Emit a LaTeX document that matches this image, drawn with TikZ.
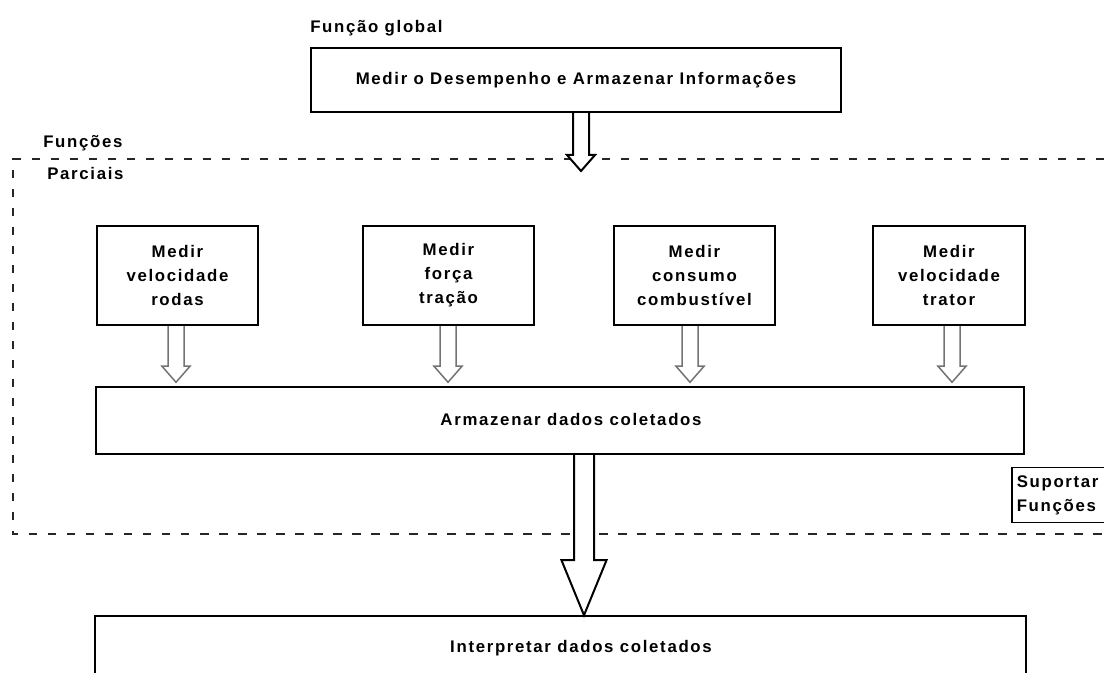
\documentclass[tikz,border=0pt]{standalone}
\usepackage{fontspec}
\setmainfont{Liberation Sans}
\newfontfamily\diagfont{Liberation Sans}[LetterSpace=10]
\usetikzlibrary{calc}
\newdimen\pxu \pxu=0.75pt
\pgfdeclarelayer{background}
\pgfsetlayers{background,main}
\tikzset{
  txt/.style={font=\diagfont\bfseries\fontsize{12.6}{18}\selectfont, inner sep=0pt, align=center},
  box/.style={draw=black, line width=1.5\pxu, inner sep=0pt, txt},
  fbox/.style={box, minimum height=99\pxu},
  barrow/.style={draw=black, line width=2\pxu, fill=white, line join=miter},
  garrow/.style={draw=black!55, line width=1.5\pxu, fill=white, line join=miter},
  regdash/.style={draw=black!85, line width=1.5\pxu, dash pattern=on 8.5\pxu off 10.5\pxu},
}
% #1 style, #2 shaft top, #3 tip, #4 shaft half width, #5 head half width, #6 head length
\newcommand\blkarrow[6]{\draw[#1] ($(#2)+(-#4,0)$) -- ($(#3)+(-#4,-#6)$) -- ($(#3)+(-#5,-#6)$) -- (#3) -- ($(#3)+(#5,-#6)$) -- ($(#3)+(#4,-#6)$) -- ($(#2)+(#4,0)$);}
\begin{document}
\begin{tikzpicture}[x=0.75pt, y=-0.75pt]
\path[use as bounding box, clip] (0,0) rectangle (1104,673);

% labels
\node[txt, anchor=west] (lglob) at (310,28) {Função global};
\node[txt, anchor=west] (lfun) at (43,143) {Funções};
\node[txt, anchor=west] (lpar) at (47,173) {Parciais};

% boxes
\node[box, minimum width=530\pxu, minimum height=64\pxu] (glob) at (576,80) {Medir o Desempenho e Armazenar Informações};
\node[fbox, minimum width=161\pxu] (f1) at (177.5,275.5) {Medir\\velocidade\\rodas};
\node[fbox, minimum width=171\pxu] (f2) at (448.5,275.5) {Medir\\força\\tração};
\node[fbox, minimum width=161\pxu] (f3) at (694.5,275.5) {Medir\\consumo\\combustível};
\node[fbox, minimum width=152\pxu] (f4) at (949,275.5) {Medir\\velocidade\\trator};
\node[box, minimum width=928\pxu, minimum height=67\pxu] (store) at (560,420.5) {};
\node[txt] (tstore) at (571,419) {Armazenar dados coletados};
\node[box, minimum width=931\pxu, minimum height=84\pxu] (interp) at (560.5,658) {};
\node[txt] (tinterp) at (581,648) {Interpretar dados coletados};
\node[box, anchor=north west, minimum height=55\pxu, text width=99\pxu, inner xsep=5\pxu, align=left] (sup) at (1011,467) {Suportar\\Funções};

% arrow guide coordinates
\coordinate (x0) at (581,0);
\coordinate (x1) at (176,0);
\coordinate (x2) at (448,0);
\coordinate (x3) at (690,0);
\coordinate (x4) at (952,0);
\coordinate (xb) at (584,0);
\coordinate (tip0) at (581,171);
\coordinate (s0) at (glob.south -| x0);
\coordinate (s1) at (f1.south -| x1);
\coordinate (s2) at (f2.south -| x2);
\coordinate (s3) at (f3.south -| x3);
\coordinate (s4) at (f4.south -| x4);
\coordinate (t1) at ($(store.north -| x1)+(0,-4)$);
\coordinate (t2) at ($(store.north -| x2)+(0,-4)$);
\coordinate (t3) at ($(store.north -| x3)+(0,-4)$);
\coordinate (t4) at ($(store.north -| x4)+(0,-4)$);
\coordinate (sb) at (store.south -| xb);
\coordinate (tb) at (interp.north -| xb);

\begin{pgfonlayer}{background}
% dashed region
\draw[regdash] (1104,159) -- (13,159) -- (13,534) -- (1104,534);
% arrows
\blkarrow{barrow}{s0}{tip0}{8}{14}{16}
\blkarrow{garrow}{s1}{t1}{8}{14}{16}
\blkarrow{garrow}{s2}{t2}{8}{14}{16}
\blkarrow{garrow}{s3}{t3}{8}{14}{16}
\blkarrow{garrow}{s4}{t4}{8}{14}{16}
\blkarrow{barrow}{sb}{tb}{10}{22.5}{55}
\end{pgfonlayer}
\end{tikzpicture}
\end{document}
